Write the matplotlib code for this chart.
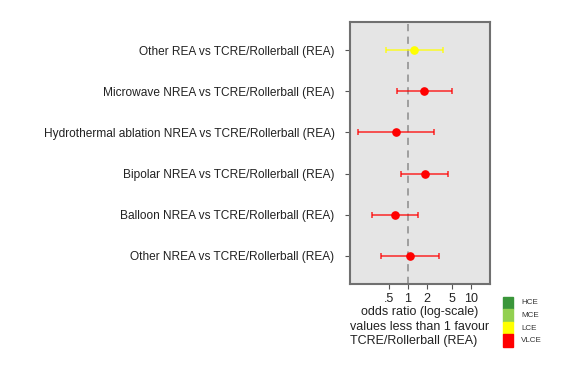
import numpy as np
import matplotlib.pyplot as plt
from matplotlib.patches import Rectangle

plt.rcParams['font.family'] = ['Liberation Sans', 'DejaVu Sans']

labels = ["Other REA vs TCRE/Rollerball (REA)",
          "Microwave NREA vs TCRE/Rollerball (REA)",
          "Hydrothermal ablation NREA vs TCRE/Rollerball (REA)",
          "Bipolar NREA vs TCRE/Rollerball (REA)",
          "Balloon NREA vs TCRE/Rollerball (REA)",
          "Other NREA vs TCRE/Rollerball (REA)"]
odds = [1.26, 1.84, 0.65, 1.86, 0.63, 1.09]
lower = [0.45, 0.68, 0.16, 0.78, 0.27, 0.37]
upper = [3.67, 5.0, 2.59, 4.36, 1.44, 3.18]
grade = ["LCE", "VLCE", "VLCE", "VLCE", "VLCE", "VLCE"]

xticks = [0.5, 1, 2, 5, 10]
xticklabels = [".5", "1", "2", "5", "10"]

legend_names = ["HCE", "MCE", "LCE", "VLCE"]
legend_colors = ["#3a963a", "#92d050", "#ffff00", "#ff0000"]
col = dict(zip(legend_names, legend_colors))

fig = plt.figure(figsize=(5.69, 3.66), dpi=100)
ax = fig.add_axes([350 / 569, 1 - 284 / 366, 140 / 569, 262 / 366])
ax.set_facecolor("#e5e5e5")

ax.axvline(1, color="#999999", lw=1.3, ls=(0, (4, 3)), zorder=1)

y = np.arange(1, len(labels) + 1)
for i in range(len(labels)):
    c = col[grade[i]]
    ax.errorbar(odds[i], y[i], xerr=[[odds[i] - lower[i]], [upper[i] - odds[i]]],
                fmt="none", ecolor=c, alpha=0.65, elinewidth=1.4, capsize=2.2, capthick=1.4, zorder=2)
    ax.plot(odds[i], y[i], "o", color=c, ms=5.2, zorder=3)

ax.set_xscale("log")
ax.set_xlim(0.121, 20.2)
ax.set_ylim(6.68, 0.32)
ax.set_xticks(xticks)
ax.set_xticklabels(xticklabels)
ax.xaxis.set_minor_locator(plt.NullLocator())
ax.set_yticks(y)
ax.set_yticklabels(labels)
ax.tick_params(axis="both", length=3.6, width=0.8, color="#555555", labelsize=8.55, labelcolor="#222222")
ax.tick_params(axis="y", pad=7.5)
ax.tick_params(axis="x", labelsize=9, pad=3)
for s in ax.spines.values():
    s.set_color("#707070")
    s.set_linewidth(1.5)

fig.text(420 / 569, 1 - 312 / 366, "odds ratio (log-scale)", ha="center", va="center",
         fontsize=9, color="#222222")
fig.text(420 / 569, 1 - 334 / 366, "values less than 1 favour\nTCRE/Rollerball (REA)", ha="center",
         va="center", multialignment="left", fontsize=9, color="#222222", linespacing=1.2)

# legend boxes
for k in range(len(legend_names)):
    top = 296.5 + k * 12.5
    fig.patches.append(Rectangle((503 / 569, 1 - (top + 12.5) / 366), 10 / 569, 12.5 / 366,
                                 transform=fig.transFigure, color=legend_colors[k], figure=fig))
    fig.text(521 / 569, 1 - (top + 6.5) / 366, legend_names[k], ha="left", va="center",
             fontsize=5.8, color="#333333")

fig.savefig("out.png", dpi=100)
